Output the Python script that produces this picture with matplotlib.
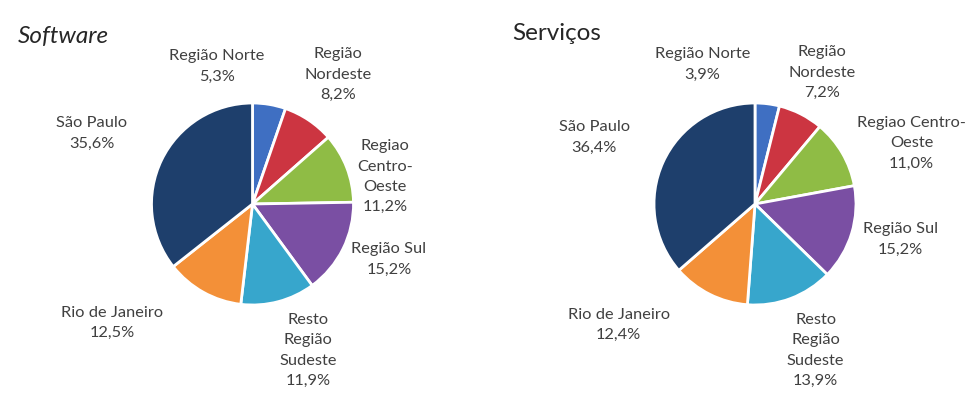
import matplotlib
matplotlib.use('Agg')
from matplotlib import pyplot as plt

plt.rcParams['font.family'] = ['Lato', 'DejaVu Sans']

# regiões, na ordem dos setores (sentido horário a partir do topo)
regioes_sw = ['Região Norte', 'Região\nNordeste', 'Regiao\nCentro-\nOeste', 'Região Sul',
              'Resto\nRegião\nSudeste', 'Rio de Janeiro', 'São Paulo']
regioes_sv = ['Região Norte', 'Região\nNordeste', 'Regiao Centro-\nOeste', 'Região Sul',
              'Resto\nRegião\nSudeste', 'Rio de Janeiro', 'São Paulo']
software = [5.3, 8.2, 11.2, 15.2, 11.9, 12.5, 35.6]
servicos = [3.9, 7.2, 11.0, 15.2, 13.9, 12.4, 36.4]

cores = ['#3F6FC2', '#CC3541', '#8FBC45', '#7A4FA3', '#37A6CC', '#F39038', '#1E3F6C']

# posição dos rótulos (em raios, relativa ao centro da pizza)
pos_sw = [(-0.35, 1.36), (0.85, 1.28), (1.31, 0.27), (1.35, -0.55),
          (0.55, -1.45), (-1.39, -1.18), (-1.59, 0.70)]
pos_sv = [(-0.52, 1.38), (0.66, 1.30), (1.55, 0.60), (1.44, -0.35),
          (0.60, -1.45), (-1.35, -1.20), (-1.59, 0.66)]

W, H = 973, 396
fig = plt.figure(figsize=(W / 100, H / 100), dpi=100)
fig.patch.set_facecolor('white')

R = 101.0  # raio em pixels
XL, YL = 2.4, 1.9


def desenha(cx, cy, valores, nomes, posicoes, titulo, estilo):
    ax = fig.add_axes([(cx - XL * R) / W, (H - cy - YL * R) / H, 2 * XL * R / W, 2 * YL * R / H])
    ax.pie(valores, colors=cores, startangle=90, counterclock=False, radius=1.0,
           wedgeprops=dict(edgecolor='white', linewidth=2))
    ax.set_xlim(-XL, XL)
    ax.set_ylim(-YL, YL)
    ax.set_aspect('equal')
    ax.axis('off')
    for nome, v, (x, y) in zip(nomes, valores, posicoes):
        txt = nome + '\n' + ('%.1f%%' % v).replace('.', ',')
        ax.text(x, y, txt, ha='center', va='center', fontsize=11.8,
                color='#404040', linespacing=1.58)
    fig.text(titulo[1] / W, 1 - titulo[2] / H, titulo[0], ha='left', va='center',
             fontsize=17.5, style=estilo, color='#262626')


desenha(252.5, 204, software, regioes_sw, pos_sw, ('Software', 18, 37), 'italic')
desenha(755, 204, servicos, regioes_sv, pos_sv, ('Serviços', 512, 33), 'normal')

plt.savefig('out.png', dpi=100, facecolor='white')
plt.close()
